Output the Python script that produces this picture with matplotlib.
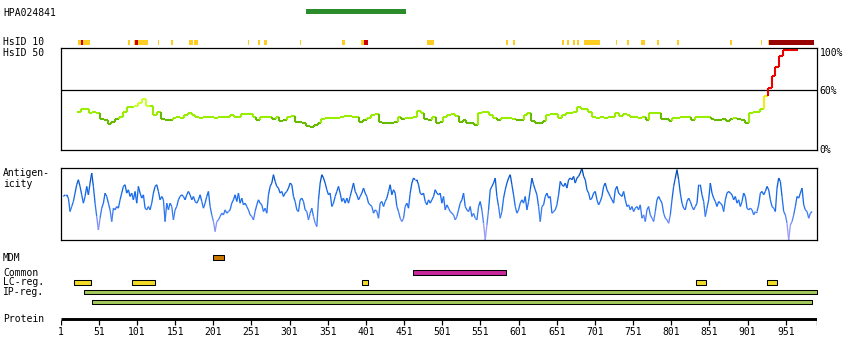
import numpy as np
import matplotlib
matplotlib.use("Agg")
import matplotlib.pyplot as plt
from matplotlib.collections import LineCollection
from matplotlib.colors import LinearSegmentedColormap

plt.rcParams['font.family'] = ['DejaVu Sans Mono']
plt.rcParams['font.size'] = 7

# ---------------- data ----------------
protein_length = 992
antigen_name = "HPA024841"
antigen_start, antigen_end = 322, 454

hsid10_start = [24, 28, 89, 97, 98, 128, 146, 169, 176, 246, 260, 268, 314, 370, 395, 399,
                481, 585, 594, 635, 658, 664, 672, 677, 687, 728, 743, 761, 782, 808, 878, 888,
                918, 928, 929.5]
hsid10_end = [39.5, 30, 91.5, 115, 102, 130, 148, 174, 180.5, 248, 262, 271, 315.5, 373.5, 404, 404,
              490.5, 587.5, 596.5, 636, 660.5, 667, 674.5, 680, 708, 730, 745.5, 767, 785, 811, 880.5, 888.6,
              920, 929.2, 988.5]
hsid10_kind = ['y', 'r', 'y', 'y', 'r', 'y', 'y', 'y', 'y', 'y', 'y', 'y', 'y', 'y', 'y', 'r',
               'y', 'y', 'y', 'y', 'y', 'y', 'y', 'y', 'y', 'y', 'y', 'y', 'y', 'y', 'y', 'y',
               'y', 'y', 'd']

hsid50_first_residue = 25
hsid50_step = 5
hsid50_values = [
    38.5, 40.9, 40.9, 36.9, 38.5, 37.5, 30.8, 30.2, 26.1, 28.1,
    30.8, 33.5, 38.5, 42.9, 42.9, 44.2, 46.9, 50.9, 44.2, 43.6,
    35.2, 38.5, 30.8, 30.5, 30.2, 31.8, 33.5, 31.8, 35.2, 37.5,
    35.2, 32.8, 31.8, 33.5, 32.8, 32.8, 31.8, 32.8, 32.8, 32.8,
    35.2, 32.8, 32.8, 36.2, 36.2, 36.2, 32.8, 30.2, 32.8, 32.8,
    32.8, 30.8, 32.8, 29.5, 30.2, 33.5, 34.2, 28.5, 27.8, 26.8,
    24.1, 23.5, 25.1, 27.5, 31.5, 31.8, 31.8, 31.8, 32.5, 33.5,
    34.2, 34.2, 33.5, 32.8, 28.5, 29.8, 31.8, 35.5, 36.2, 28.5,
    27.5, 27.5, 27.5, 28.5, 33.5, 30.8, 31.8, 31.8, 33.5, 39.5,
    36.9, 30.8, 30.2, 32.8, 27.5, 28.5, 32.8, 35.5, 36.2, 34.2,
    28.5, 30.2, 27.5, 26.8, 25.1, 36.9, 38.2, 38.2, 35.5, 31.8,
    30.2, 31.8, 31.8, 31.8, 31.5, 30.2, 30.2, 35.2, 37.5, 29.5,
    27.5, 26.8, 29.5, 35.5, 36.2, 36.2, 31.8, 35.2, 37.5, 37.5,
    38.5, 42.9, 40.9, 40.9, 38.5, 32.8, 31.8, 32.8, 31.8, 32.8,
    32.8, 37.5, 34.2, 36.2, 35.2, 32.8, 33.5, 31.8, 32.8, 30.2,
    37.5, 37.5, 36.9, 30.8, 30.8, 29.5, 31.8, 31.8, 33.5, 33.5,
    33.5, 30.2, 32.8, 32.8, 32.8, 32.8, 30.8, 30.2, 30.2, 30.8,
    29.5, 30.8, 31.8, 30.8, 30.2, 26.8, 36.9, 38.5, 38.5, 40.9,
    53.6, 62.0, 73.7, 82.7, 93.8, 100, 100, 100, 100,
]

antigenicity_first_residue = 4.5
antigenicity_last_residue = 985.5
antigenicity_values = [
    130, 135, 135, 125, 85, 100, 115, 140, 165, 180,
    160, 135, 110, 130, 160, 135, 170, 200, 160, 110,
    70, 30, 65, 95, 110, 140, 130, 110, 90, 55,
    95, 90, 100, 95, 120, 140, 160, 165, 140, 150,
    130, 140, 120, 145, 110, 160, 140, 125, 135, 95,
    90, 100, 90, 110, 140, 160, 165, 145, 120, 130,
    120, 55, 110, 90, 110, 100, 60, 90, 100, 120,
    130, 135, 130, 120, 135, 145, 135, 120, 130, 115,
    110, 120, 135, 115, 95, 110, 130, 145, 100, 75,
    55, 25, 55, 60, 70, 80, 75, 90, 80, 85,
    90, 110, 120, 135, 115, 140, 110, 125, 105, 110,
    100, 90, 75, 70, 60, 85, 105, 120, 110, 105,
    85, 95, 80, 135, 160, 170, 195, 175, 160, 155,
    140, 145, 130, 140, 145, 155, 170, 165, 130, 115,
    90, 85,
    120, 125, 115, 90, 85, 60, 80, 95, 70, 50,
    40, 120, 170, 195, 185, 170, 150, 135, 140, 100,
    110, 130, 145, 160, 140, 115, 125, 110, 125, 110,
    130, 150, 170, 145, 135, 120, 130, 140, 155, 140,
    130, 110, 105, 100, 80, 90, 85, 65, 110, 115,
    100, 115, 125, 145, 165, 135, 150, 140, 100, 85,
    65, 55, 65, 100, 110, 95, 140, 170, 185, 180,
    180, 165, 140, 135, 140, 115, 105, 120, 110, 120,
    130, 150, 140, 135, 140, 110, 130, 90, 105, 95,
    85, 80, 75, 60, 70, 90, 110, 120, 140, 100,
    90, 85, 100, 70, 80, 65, 60, 100, 115, 90,
    50, 0, 45, 90, 150, 160, 170, 185, 130, 100,
    65, 85, 125, 150, 170, 185, 195, 165, 135, 100,
    80, 90, 110, 120, 110, 130, 90, 115, 150, 185,
    165, 150, 135, 100, 55, 100, 105, 130, 140, 125,
    130, 80, 85, 90, 105, 135, 175, 165, 160, 170,
    155, 180, 185, 180, 190, 170, 185, 190, 200, 215,
    190, 180, 150, 140, 120, 125, 140, 145, 120, 105,
    115, 130, 160, 170, 150, 140, 130, 120, 110, 150,
    160, 140, 135, 130, 145, 120, 100, 105, 90, 100,
    85, 95, 100, 90, 105, 65, 75, 55, 90, 100,
    75, 65, 55, 85, 120, 130, 120, 110, 80, 65,
    60, 50, 75, 120, 160, 185, 210, 180, 140, 110,
    95, 90, 115, 125, 115, 100, 90, 100, 110, 165,
    165, 135, 115, 70, 95, 120, 170, 140, 125, 115,
    100, 115, 110, 105, 85, 120, 140, 145, 140, 135,
    120, 130, 110, 120, 100, 115, 140, 130, 95, 90,
    95, 90, 75, 85, 85, 105, 140, 145, 135, 145,
    160, 150, 120, 100, 95, 85, 155, 185, 175, 130,
    85, 75, 50, 0, 45, 55, 75, 100, 130, 125,
    140, 155, 105, 90, 85, 65, 80, 85,
]

mdm_regions = [(201, 215)]
common_regions = [(462, 584)]
lc_regions = [(19, 41), (95, 124), (396, 404), (834, 847), (926, 940)]
ip_regions = [(31, 992), (42, 986)]
tick_residues = list(range(1, 952, 50))

# ---------------- layout helpers ----------------
W, H = 850, 360
X0, X1 = 60.7, 817.0


def rect(y_top, y_bot):
    return [X0 / W, 1 - y_bot / H, (X1 - X0) / W, (y_bot - y_top) / H]


fig = plt.figure(figsize=(W / 100, H / 100), dpi=100)
fig.patch.set_facecolor('white')

# tracks axes in pixel-like rows
ax_tr = fig.add_axes([X0 / W, 0, (X1 - X0) / W, 1])
ax_tr.set_xlim(1, protein_length)
ax_tr.set_ylim(H, 0)
ax_tr.axis('off')

# antigen bar
ax_tr.broken_barh([(antigen_start, antigen_end - antigen_start)], (9, 5),
                  facecolor='#2a8c2a', edgecolor='none')

# HsID 10
kind_color = {'y': '#ffcc22', 'r': '#cc0000', 'd': '#990000'}
for kind in ['y', 'r', 'd']:
    segs = [(s, e - s) for s, e, k in zip(hsid10_start, hsid10_end, hsid10_kind) if k == kind]
    ax_tr.broken_barh(segs, (39.5, 5), facecolor=kind_color[kind], edgecolor='none')

# feature rows
rows = [
    (mdm_regions, 255.3, 5.0, '#c87800'),
    (common_regions, 270.3, 4.4, '#c8289b'),
    (lc_regions, 279.7, 5.0, '#f0dc28'),
]
for regs, y, h, col in rows:
    ax_tr.broken_barh([(s, e - s) for s, e in regs], (y, h), facecolor=col,
                      edgecolor='black', linewidth=0.75)
for (s, e), y in zip(ip_regions, [290.3, 300.3]):
    ax_tr.broken_barh([(s, e - s)], (y, 4.0), facecolor='#a3c95a',
                      edgecolor='black', linewidth=0.75)

# protein axis
ax_tr.plot([1, protein_length], [319, 319], color='black', lw=2.1, solid_capstyle='butt')
ax_tr.vlines(tick_residues + [protein_length], 320, 324.5, color='black', lw=0.9)
for r in tick_residues:
    ax_tr.text(r, 335, str(r), ha='center', va='baseline', fontsize=7)

# ---------------- HsID 50 ----------------
ax50 = fig.add_axes(rect(48, 150))
ax50.set_xlim(1, protein_length)
ax50.set_ylim(0, 102)
ax50.set_xticks([])
ax50.set_yticks([])
for sp in ax50.spines.values():
    sp.set_linewidth(0.9)
ax50.axhline(60, color='black', lw=0.9)


def hs_color(p):
    if p < 31:
        return '#66bb00'
    if p < 44:
        return '#99ee00'
    if p < 52:
        return '#ccff33'
    if p < 60:
        return '#eeee11'
    return '#ee0000'


res50 = hsid50_first_residue + hsid50_step * np.arange(len(hsid50_values))
half = hsid50_step / 2
segs, cols = [], []
for i, (r, p) in enumerate(zip(res50, hsid50_values)):
    segs.append([(r - half, p), (r + half, p)])
    cols.append(hs_color(p))
    if i + 1 < len(hsid50_values):
        q = hsid50_values[i + 1]
        segs.append([(r + half, p), (r + half, q)])
        cols.append(hs_color(max(p, q)) if max(p, q) >= 44 else hs_color(q))
ax50.add_collection(LineCollection(segs, colors=cols, linewidths=1.5, capstyle='butt'))

for val, yb in [('100%', 56), ('60%', 94), ('0%', 153.3)]:
    fig.text(819.5 / W, 1 - yb / H, val, ha='left', va='baseline', fontsize=7)

# ---------------- Antigenicity ----------------
axa = fig.add_axes(rect(168, 240))
axa.set_xlim(1, protein_length)
axa.set_ylim(0, 215)
axa.set_xticks([])
axa.set_yticks([])
for sp in axa.spines.values():
    sp.set_linewidth(0.9)

ant = np.array(antigenicity_values, dtype=float)
res_a = np.linspace(antigenicity_first_residue, antigenicity_last_residue, len(ant))
cmap = LinearSegmentedColormap.from_list('ant', [
    (0.0, '#b0a4ff'), (0.22, '#8090f8'), (0.36, '#3a7cf2'),
    (0.55, '#1a6eee'), (0.8, '#0c5ed8'), (1.0, '#0046a4')])
pts = np.column_stack([res_a, ant])
asegs = np.stack([pts[:-1], pts[1:]], axis=1)
mid = (ant[:-1] + ant[1:]) / 2 / 215
axa.add_collection(LineCollection(asegs, colors=cmap(mid), linewidths=0.95))

# ---------------- labels ----------------
labels = [
    (antigen_name, 16), ('HsID 10', 45), ('HsID 50', 56),
    ('Antigen-', 176.3), ('icity', 186.7),
    ('MDM', 261), ('Common', 275.7), ('LC-reg.', 284.7), ('IP-reg.', 295),
    ('Protein', 322),
]
for txt, yb in labels:
    fig.text(3 / W, 1 - yb / H, txt, ha='left', va='baseline', fontsize=7)

fig.savefig('out.png', dpi=100, facecolor='white')
